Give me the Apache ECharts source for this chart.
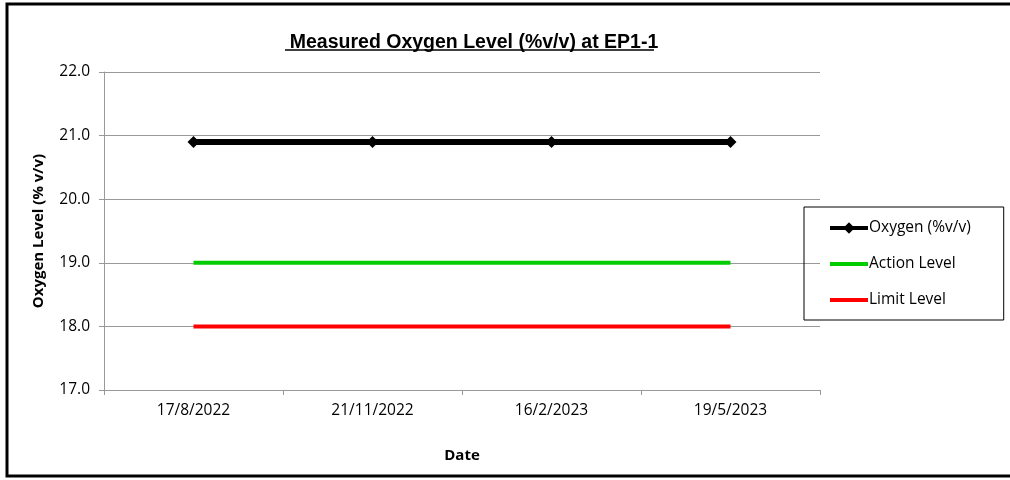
<!DOCTYPE html>
<html>
<head>
<meta charset="utf-8">
<script src="https://cdn.jsdelivr.net/npm/echarts@6/dist/echarts.min.js"></script>
<style>
  html, body { margin: 0; padding: 0; background: #fff; }
  #chart { width: 1010px; height: 480px; }
</style>
</head>
<body>
<div id="chart"></div>
<script>
// sampling dates
var dates = ['17/8/2022', '21/11/2022', '16/2/2023', '19/5/2023'];
// measured values and reference levels (%v/v)
var oxygen = [20.9, 20.9, 20.9, 20.9];
var actionLevel = [19.0, 19.0, 19.0, 19.0];
var limitLevel = [18.0, 18.0, 18.0, 18.0];

var font = '"Open Sans", "Liberation Sans", sans-serif';
// legend icons: plain thick line, and thick line with a diamond in the middle
var lineIcon = 'path://M0,0h40v4h-40z';
var diamondIcon = 'path://M0,4h40v4h-40zM20,0L26,6L20,12L14,6z';

var chart = echarts.init(document.getElementById('chart'));

chart.setOption({
    animation: false,
    title: {
        text: 'Measured Oxygen Level (%v/v) at EP1-1',
        left: 469,
        textAlign: 'center',
        top: 28,
        textStyle: {
            fontFamily: '"Liberation Sans", Arial, sans-serif',
            fontSize: 19.5,
            fontWeight: 'bold',
            color: '#000'
        }
    },
    graphic: [
        { // outer frame
            type: 'rect',
            shape: { x: 7, y: 4, width: 1010, height: 472 },
            style: { fill: 'none', stroke: '#000', lineWidth: 3 },
            silent: true
        },
        { // title underline
            type: 'line',
            shape: { x1: 285, y1: 50, x2: 654, y2: 50 },
            style: { stroke: '#000', lineWidth: 1.5 },
            silent: true
        }
    ],
    legend: {
        orient: 'vertical',
        left: 804,
        top: 207,
        padding: [13, 33, 12, 26],
        itemGap: 20,
        itemWidth: 38,
        itemHeight: 16,
        borderColor: '#000',
        borderWidth: 1,
        textStyle: { fontFamily: font, fontSize: 15.5, color: '#000', padding: [0, 0, 0, -4] },
        data: [
            { name: 'Oxygen (%v/v)', icon: diamondIcon },
            { name: 'Action Level', icon: lineIcon },
            { name: 'Limit Level', icon: lineIcon }
        ]
    },
    grid: {
        left: 104,
        right: 190,
        top: 72,
        bottom: 90
    },
    xAxis: {
        type: 'category',
        data: dates,
        boundaryGap: true,
        name: 'Date',
        nameLocation: 'middle',
        nameGap: 58,
        nameTextStyle: { fontFamily: font, fontSize: 15, fontWeight: 'bold', color: '#000' },
        axisLine: { lineStyle: { color: '#999', width: 1 } },
        axisTick: { show: true, length: 5, lineStyle: { color: '#999' } },
        axisLabel: { fontFamily: font, fontSize: 15.5, color: '#000', margin: 13 }
    },
    yAxis: {
        type: 'value',
        min: 17,
        max: 22,
        interval: 1,
        name: 'Oxygen Level (% v/v)',
        nameLocation: 'middle',
        nameGap: 58,
        nameTextStyle: { fontFamily: font, fontSize: 15, fontWeight: 'bold', color: '#000' },
        axisLine: { show: true, lineStyle: { color: '#999', width: 1 } },
        axisTick: { show: true, length: 5, lineStyle: { color: '#999' } },
        axisLabel: {
            fontFamily: font, fontSize: 15.5, color: '#000', margin: 14,
            formatter: function (v) { return v.toFixed(1); }
        },
        splitLine: { lineStyle: { color: '#999', width: 1 } }
    },
    series: [
        {
            name: 'Oxygen (%v/v)',
            type: 'line',
            data: oxygen,
            symbol: 'diamond',
            symbolSize: 12,
            color: '#000',
            lineStyle: { width: 6, color: '#000' },
            itemStyle: { color: '#000' }
        },
        {
            name: 'Action Level',
            type: 'line',
            data: actionLevel,
            symbol: 'none',
            color: '#00cc00',
            lineStyle: { width: 4, color: '#00cc00' }
        },
        {
            name: 'Limit Level',
            type: 'line',
            data: limitLevel,
            symbol: 'none',
            color: '#ff0000',
            lineStyle: { width: 4, color: '#ff0000' }
        }
    ]
});
</script>
</body>
</html>
